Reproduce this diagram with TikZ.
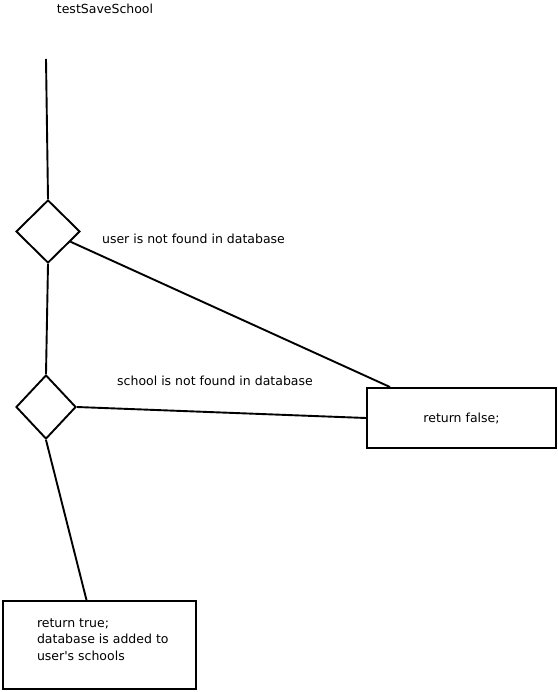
\documentclass[tikz,border=0pt]{standalone}
\usepackage{fontspec}
\setmainfont{DejaVu Sans}
\usetikzlibrary{shapes.geometric}

\begin{document}
\begin{tikzpicture}[
    x=1pt, y=-1pt,
    line width=1.9pt,
    decision/.style={diamond, draw, inner sep=0pt, minimum width=64pt, minimum height=63pt},
    result_box/.style={rectangle, draw, inner sep=0pt, font=\fontsize{12.5}{16.7}\selectfont},
    msg/.style={inner sep=0pt, align=left, font=\fontsize{12.5}{16.7}\selectfont}
]
    \useasboundingbox (0,0) rectangle (557,692);
    \node[msg] (title) at (105,9) {testSaveSchool};
    \coordinate (start) at (46,59);
    \node[decision] (userCheck) at (48,231.5) {};
    \node[decision, minimum width=60pt, minimum height=64pt] (schoolCheck) at (46,407) {};
    \node[msg] (userMsg) at (193.5,239) {user is not found in database};
    \node[msg] (schoolMsg) at (215,381) {school is not found in database};
    \node[result_box, minimum width=189pt, minimum height=60pt] (retFalse) at (461.5,418) {return false;};
    \node[result_box, minimum width=193pt, minimum height=88pt] (retTrue) at (99.5,645) {};
    \node[msg, anchor=north west] (retTrueText) at ([xshift=34pt, yshift=-17.5pt]retTrue.north west) {return true;\\database is added to\\user\textquotesingle s schools};

    \draw (start) -- (userCheck.north);
    \draw (userCheck.south) -- (schoolCheck.north);
    \draw (userCheck) -- ([xshift=24pt]retFalse.north west);
    \draw (schoolCheck.east) -- (retFalse.west);
    \draw (schoolCheck.south) -- ([xshift=-13pt]retTrue.north);
\end{tikzpicture}
\end{document}
